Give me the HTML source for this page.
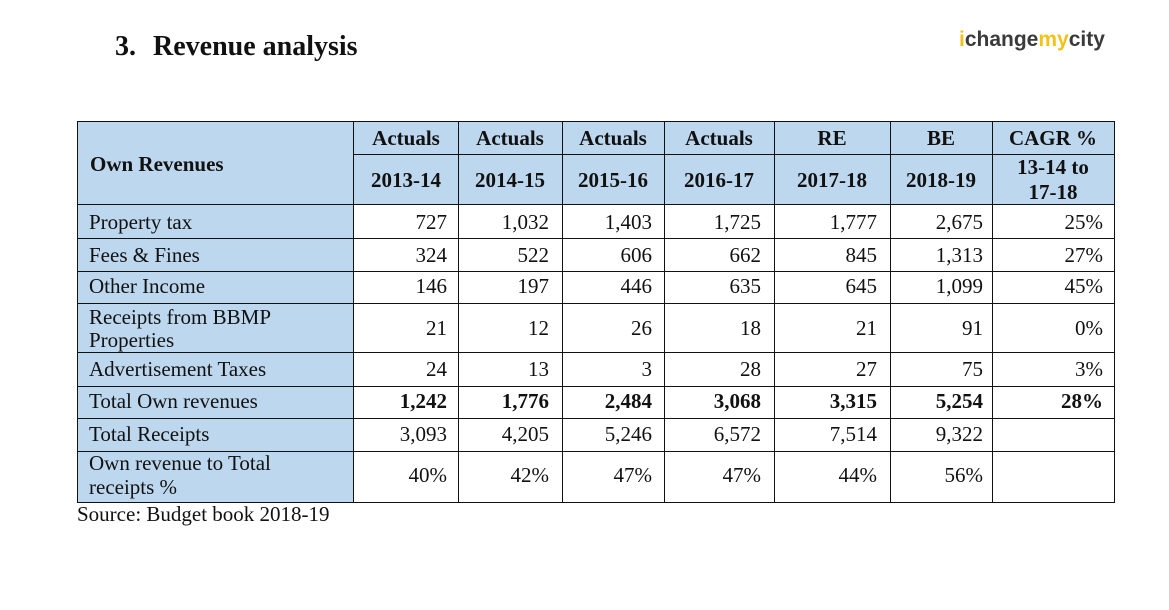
<!DOCTYPE html>
<html><head><meta charset="utf-8">
<style>
html,body{margin:0;padding:0;background:#fff;}
svg{display:block;}
.t{font-family:"Liberation Serif",serif;font-size:21px;fill:#111;}
.b{font-family:"Liberation Serif",serif;font-size:21px;font-weight:bold;fill:#111;}
</style></head>
<body>
<svg width="1169" height="610" viewBox="0 0 1169 610" xmlns="http://www.w3.org/2000/svg">
<rect width="1169" height="610" fill="#fff"/>
<!-- title -->
<text x="115" y="55" font-family="Liberation Serif, serif" font-size="28" font-weight="bold" fill="#111">3.</text>
<text x="153" y="55" font-family="Liberation Serif, serif" font-size="28" font-weight="bold" fill="#111">Revenue analysis</text>
<!-- logo -->
<text x="959" y="46" font-family="Liberation Sans, sans-serif" font-size="21" font-weight="bold" fill="#3a3a3a"><tspan fill="#f2c21a">i</tspan>change<tspan fill="#f2c21a">my</tspan>city</text>

<!-- fills -->
<rect x="77" y="121" width="1037" height="83" fill="#bdd7ee"/>
<rect x="77" y="204" width="276" height="298" fill="#bdd7ee"/>

<!-- grid -->
<g stroke="#111" stroke-width="1.2" shape-rendering="crispEdges">
<line x1="77" y1="121.5" x2="1114" y2="121.5"/>
<line x1="353" y1="154.5" x2="1114" y2="154.5"/>
<line x1="77" y1="204.5" x2="1114" y2="204.5"/>
<line x1="77" y1="238.5" x2="1114" y2="238.5"/>
<line x1="77" y1="271.5" x2="1114" y2="271.5"/>
<line x1="77" y1="303.5" x2="1114" y2="303.5"/>
<line x1="77" y1="352.5" x2="1114" y2="352.5"/>
<line x1="77" y1="386.5" x2="1114" y2="386.5"/>
<line x1="77" y1="418.5" x2="1114" y2="418.5"/>
<line x1="77" y1="451.5" x2="1114" y2="451.5"/>
<line x1="77" y1="502.5" x2="1114" y2="502.5"/>
<line x1="77.5" y1="121" x2="77.5" y2="503"/>
<line x1="353.5" y1="121" x2="353.5" y2="503"/>
<line x1="458.5" y1="121" x2="458.5" y2="503"/>
<line x1="562.5" y1="121" x2="562.5" y2="503"/>
<line x1="664.5" y1="121" x2="664.5" y2="503"/>
<line x1="774.5" y1="121" x2="774.5" y2="503"/>
<line x1="890.5" y1="121" x2="890.5" y2="503"/>
<line x1="992.5" y1="121" x2="992.5" y2="503"/>
<line x1="1114.5" y1="121" x2="1114.5" y2="503"/>
</g>

<!-- header -->
<text class="b" x="90" y="171">Own Revenues</text>
<g class="b" text-anchor="middle">
<text x="406" y="145">Actuals</text>
<text x="510" y="145">Actuals</text>
<text x="613" y="145">Actuals</text>
<text x="719" y="145">Actuals</text>
<text x="832" y="145">RE</text>
<text x="941" y="145">BE</text>
<text x="1053" y="145">CAGR %</text>
<text x="406" y="187">2013-14</text>
<text x="510" y="187">2014-15</text>
<text x="613" y="187">2015-16</text>
<text x="719" y="187">2016-17</text>
<text x="832" y="187">2017-18</text>
<text x="941" y="187">2018-19</text>
<text x="1053" y="174">13-14 to</text>
<text x="1053" y="199">17-18</text>
</g>

<!-- row labels -->
<g class="t">
<text x="89" y="229">Property tax</text>
<text x="89" y="262">Fees &amp; Fines</text>
<text x="89" y="293">Other Income</text>
<text x="89" y="324">Receipts from BBMP</text>
<text x="89" y="347">Properties</text>
<text x="89" y="376">Advertisement Taxes</text>
<text x="89" y="408">Total Own revenues</text>
<text x="89" y="441">Total Receipts</text>
<text x="89" y="470">Own revenue to Total</text>
<text x="89" y="494">receipts %</text>
<text x="77" y="521">Source: Budget book 2018-19</text>
</g>

<!-- numbers -->
<g class="t" text-anchor="end">
<text x="447" y="229">727</text><text x="549" y="229">1,032</text><text x="652" y="229">1,403</text><text x="761" y="229">1,725</text><text x="877" y="229">1,777</text><text x="983" y="229">2,675</text><text x="1103" y="229">25%</text>
<text x="447" y="262">324</text><text x="549" y="262">522</text><text x="652" y="262">606</text><text x="761" y="262">662</text><text x="877" y="262">845</text><text x="983" y="262">1,313</text><text x="1103" y="262">27%</text>
<text x="447" y="293">146</text><text x="549" y="293">197</text><text x="652" y="293">446</text><text x="761" y="293">635</text><text x="877" y="293">645</text><text x="983" y="293">1,099</text><text x="1103" y="293">45%</text>
<text x="447" y="335">21</text><text x="549" y="335">12</text><text x="652" y="335">26</text><text x="761" y="335">18</text><text x="877" y="335">21</text><text x="983" y="335">91</text><text x="1103" y="335">0%</text>
<text x="447" y="376">24</text><text x="549" y="376">13</text><text x="652" y="376">3</text><text x="761" y="376">28</text><text x="877" y="376">27</text><text x="983" y="376">75</text><text x="1103" y="376">3%</text>
<text x="447" y="441">3,093</text><text x="549" y="441">4,205</text><text x="652" y="441">5,246</text><text x="761" y="441">6,572</text><text x="877" y="441">7,514</text><text x="983" y="441">9,322</text>
<text x="447" y="482">40%</text><text x="549" y="482">42%</text><text x="652" y="482">47%</text><text x="761" y="482">47%</text><text x="877" y="482">44%</text><text x="983" y="482">56%</text>
</g>
<g class="b" text-anchor="end">
<text x="447" y="408">1,242</text><text x="549" y="408">1,776</text><text x="652" y="408">2,484</text><text x="761" y="408">3,068</text><text x="877" y="408">3,315</text><text x="983" y="408">5,254</text><text x="1103" y="408">28%</text>
</g>
</svg>
</body></html>
